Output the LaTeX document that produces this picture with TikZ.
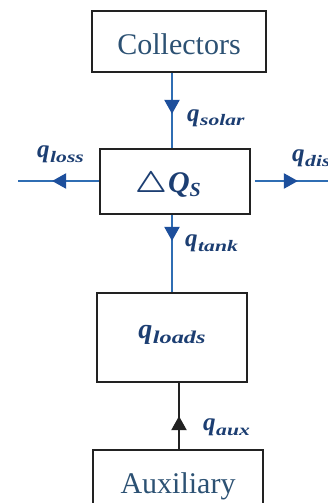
\documentclass[tikz,border=0pt]{standalone}
\usepackage{fontspec}
\setmainfont{Liberation Serif}
\usetikzlibrary{arrows.meta,decorations.markings}
\definecolor{lineblue}{HTML}{2F6DB3}
\definecolor{headblue}{HTML}{1D4F9C}
\definecolor{txtblue}{HTML}{1C3E72}
\definecolor{boxtxt}{HTML}{2C5173}
\definecolor{boxline}{HTML}{222222}
\newcommand{\qlab}[3]{{\fontsize{#1}{#1}\selectfont\bfseries\itshape q\kern0.5pt\raisebox{-5pt}{\scalebox{1.35}[1]{\fontsize{#2}{#2}\selectfont #3}}}}
\begin{document}
\begin{tikzpicture}[x=1pt,y=-1pt,
  box/.style={draw=boxline, line width=1.8pt, inner sep=0pt, fill=white},
  flow/.style={draw=lineblue, line width=2.2pt},
  midarrow/.style n args={2}{postaction={decorate,decoration={markings,
      mark=at position #1 with {\arrow[#2]{Triangle[length=14pt,width=15pt]}}}}},
  lab/.style={text=txtblue, inner sep=0pt, anchor=base west}]
\useasboundingbox (0,0) rectangle (328,503);
\clip (0,0) rectangle (328,503);
\fill[white] (0,0) rectangle (328,503);

\coordinate (vx) at (172,0);
\coordinate (vx2) at (179,0);
\coordinate (hy) at (0,181);
\coordinate (lossend) at (18,181);
\coordinate (disend) at (340,181);

\node[box, minimum width=174pt, minimum height=61pt, text=boxtxt,
  font=\fontsize{30}{30}\selectfont, text height=27pt, text depth=0pt]
  (coll) at (179,41.5) {Collectors};
\node[box, minimum width=150pt, minimum height=65pt, text=txtblue,
  text height=21pt, text depth=0pt]
  (dq) at (175,181.5) {\fontsize{30}{30}\selectfont\scalebox{1.25}[1.2]{\boldmath$\triangle$}\kern1pt\bfseries\itshape Q\raisebox{-4pt}{\fontsize{20}{20}\selectfont S}\hspace*{14pt}};
\node[box, minimum width=150pt, minimum height=89pt, text=txtblue,
  text height=13pt, text depth=12pt]
  (loads) at (172,337.5) {\qlab{28}{18}{loads}};
\node[box, minimum width=170pt, minimum height=70pt, text=boxtxt,
  font=\fontsize{30}{30}\selectfont, text height=16pt, text depth=0pt]
  (aux) at (178,485) {Auxiliary};

\draw[flow, midarrow={41pt}{headblue}] (coll.south -| vx) -- (dq.north -| vx);
\draw[flow, midarrow={47pt}{headblue}] (dq.west |- hy) -- (lossend);
\draw[flow, shorten <=4pt, midarrow={47pt}{headblue}] (dq.east |- hy) -- (disend);
\draw[flow, midarrow={26pt}{headblue}] (dq.south -| vx) -- (loads.north -| vx);
\draw[draw=boxline, line width=2pt, midarrow={33pt}{boxline}] (aux.north -| vx2) -- (loads.south -| vx2);

\node[lab] (lsolar) at (187,121) {\qlab{25}{16}{solar}};
\node[lab] (lloss) at (37,157) {\qlab{25}{16}{loss}};
\node[lab] (ldis) at (292,161) {\qlab{25}{16}{dis}};
\node[lab] (ltank) at (185,246) {\qlab{25}{16}{tank}};
\node[lab] (laux) at (203,430) {\qlab{25}{16}{aux}};
\end{tikzpicture}
\end{document}
